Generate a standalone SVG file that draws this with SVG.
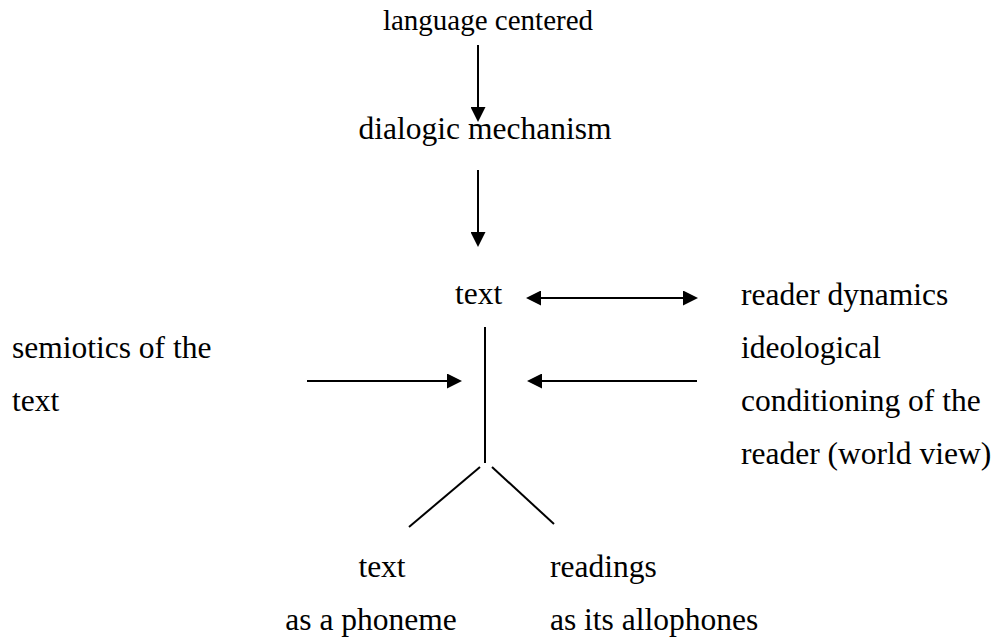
<svg xmlns="http://www.w3.org/2000/svg" width="998" height="639" viewBox="0 0 998 639">
<defs>
<marker id="ah" markerUnits="userSpaceOnUse" markerWidth="16" markerHeight="15" viewBox="0 0 16 15" refX="6" refY="7.5" orient="auto-start-reverse">
<path d="M0,0 L15,7.5 L0,15 z" fill="#000"/>
</marker>
<style>
.c{stroke:#000;stroke-width:2;fill:none}
.a{marker-end:url(#ah)}
.d{marker-start:url(#ah);marker-end:url(#ah)}
</style>
</defs>
<rect width="998" height="639" fill="#fff"/>
<g id="connectors">
<line class="c a" x1="478" y1="45" x2="478" y2="113"/>
<line class="c a" x1="478" y1="170" x2="478" y2="238"/>
<line class="c d" x1="535" y1="298" x2="689" y2="298"/>
<line class="c" x1="485" y1="327" x2="485" y2="463"/>
<line class="c a" x1="697" y1="381" x2="536" y2="381"/>
<line class="c a" x1="307" y1="381" x2="453" y2="381"/>
<line class="c" x1="480" y1="467" x2="409" y2="527"/>
<line class="c" x1="492" y1="467" x2="554" y2="524"/>
</g>
<g font-family="Liberation Serif, Times New Roman, DejaVu Serif, serif" font-size="31.5" fill="#000">
<g id="n-language"><text font-size="29" x="488" y="30" text-anchor="middle">language centered</text></g>
<g id="n-dialogic"><text x="485" y="139" text-anchor="middle">dialogic mechanism</text></g>
<g id="n-text"><text x="455" y="304">text</text></g>
<g id="n-reader"><text x="741" y="305">reader dynamics</text><text x="741" y="358">ideological</text><text x="741" y="411">conditioning of the</text><text x="741" y="464">reader (world view)</text></g>
<g id="n-semiotics"><text x="12" y="358">semiotics of the</text><text x="12" y="411">text</text></g>
<g id="n-phoneme"><text x="382" y="577" text-anchor="middle">text</text><text x="371" y="630" text-anchor="middle">as a phoneme</text></g>
<g id="n-allophones"><text x="550" y="577">readings</text><text x="550" y="630">as its allophones</text></g>
</g>
</svg>
